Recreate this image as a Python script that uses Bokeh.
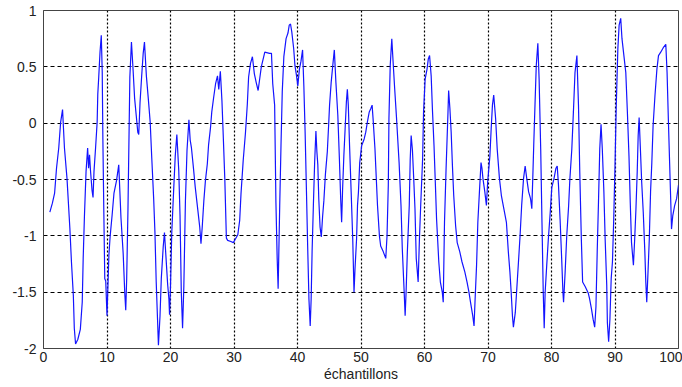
from bokeh.plotting import figure
from bokeh.embed import file_html
from bokeh.resources import INLINE
from bokeh.models import ColumnDataSource, Range1d, FixedTicker

# ---- data, one chunk per decade of samples ----
xa = [1.0, 1.4, 1.75, 2.05, 2.4, 2.7, 3.0, 3.3, 3.7, 4.15, 4.4, 4.7, 4.85, 5.05, 5.4, 5.8, 6.1, 6.25, 6.45, 6.7,
      6.95, 7.1, 7.25, 7.4, 7.65, 7.8, 7.95, 8.2, 8.45, 8.55, 8.7, 8.9, 9.1, 9.25, 9.35, 9.5, 9.65, 9.8]
ya = [-0.79, -0.71, -0.62, -0.40, -0.22, 0.01, 0.12, -0.22, -0.49, -0.93, -1.23, -1.53, -1.82, -1.96, -1.92,
      -1.83, -1.59, -1.20, -0.82, -0.43, -0.22, -0.40, -0.28, -0.42, -0.60, -0.66, -0.43, -0.22, 0.01, 0.26,
      0.41, 0.63, 0.78, 0.45, -0.14, -0.79, -1.38, -1.40]

xb = [10.0, 10.3, 10.5, 10.8, 11.1, 11.5, 11.85, 12.2, 12.55, 12.8, 12.95, 13.1, 13.3, 13.45, 13.6, 13.85, 14.1,
      14.35, 14.6, 14.85, 15.0, 15.2, 15.45, 15.7, 15.9, 16.2, 16.5, 16.8, 17.05, 17.35, 17.55, 17.75, 17.95,
      18.1, 18.35, 18.55, 18.85, 19.05, 19.3, 19.55, 19.75, 19.85]
yb = [-1.71, -1.17, -1.00, -0.82, -0.62, -0.51, -0.37, -0.84, -1.16, -1.51, -1.66, -1.38, -0.77, -0.18, 0.41,
      0.72, 0.48, 0.22, 0.07, -0.08, -0.10, 0.18, 0.41, 0.62, 0.72, 0.42, 0.22, 0.01, -0.31, -0.67, -0.97,
      -1.41, -1.73, -1.97, -1.71, -1.38, -1.10, -0.97, -1.20, -1.43, -1.56, -1.70]

xc = [20.0, 20.2, 20.5, 20.75, 21.0, 21.3, 21.5, 21.7, 21.9, 22.1, 22.35, 22.6, 22.9, 23.1, 23.3, 23.6, 23.9,
      24.3, 24.6, 24.8, 25.0, 25.25, 25.5, 25.8, 26.0, 26.3, 26.5, 26.8, 27.1, 27.4, 27.6, 27.85, 28.1, 28.3,
      28.55, 28.8, 29.0, 29.5, 29.9]
yc = [-1.45, -0.97, -0.59, -0.29, -0.10, -0.42, -0.82, -1.50, -1.82, -1.45, -0.69, -0.24, 0.03, -0.15, -0.22,
      -0.39, -0.57, -0.77, -0.92, -1.07, -0.92, -0.69, -0.51, -0.36, -0.19, -0.04, 0.10, 0.23, 0.35, 0.42,
      0.30, 0.46, 0.20, -0.10, -0.49, -1.02, -1.04, -1.05, -1.06]

xd = [30.2, 30.6, 30.9, 31.1, 31.45, 31.8, 32.1, 32.3, 32.6, 32.9, 33.2, 33.5, 33.8, 34.3, 34.85, 35.6, 35.9,
      36.1, 36.4, 36.6, 36.8, 36.95, 37.2, 37.4, 37.6, 37.85, 38.2, 38.5, 38.7, 38.9, 39.1, 39.4, 39.6, 39.85]
yd = [-1.03, -0.99, -0.86, -0.63, -0.33, -0.09, 0.17, 0.41, 0.53, 0.59, 0.44, 0.36, 0.29, 0.50, 0.63, 0.62,
      0.62, 0.35, 0.16, -0.70, -1.20, -1.47, -0.73, -0.20, 0.28, 0.59, 0.75, 0.80, 0.87, 0.88, 0.81, 0.66,
      0.51, 0.42]

xe = [40.05, 40.3, 40.55, 40.8, 41.0, 41.2, 41.4, 41.6, 41.8, 42.0, 42.15, 42.3, 42.5, 42.7, 42.9, 43.05,
      43.2, 43.35, 43.55, 43.75, 43.95, 44.15, 44.4, 44.7, 44.9, 45.05, 45.3, 45.55, 45.8, 46.05, 46.35, 46.6,
      46.8, 46.95, 47.1, 47.3, 47.5, 47.7, 47.85, 48.0, 48.2, 48.45, 48.7, 48.9, 49.05, 49.3, 49.45, 49.6, 49.8]
ye = [0.33, 0.48, 0.55, 0.65, 0.33, -0.08, -0.58, -1.09, -1.56, -1.80, -1.56, -1.14, -0.73, -0.35, -0.07,
      -0.25, -0.37, -0.67, -0.92, -1.01, -0.83, -0.69, -0.45, -0.25, -0.02, 0.16, 0.36, 0.51, 0.65, 0.36,
      0.07, -0.32, -0.67, -0.88, -0.59, -0.29, -0.05, 0.19, 0.30, 0.16, -0.20, -0.61, -1.03, -1.50, -1.30,
      -1.03, -0.73, -0.61, -0.35]

xf = [50.1, 50.5, 50.75, 51.0, 51.3, 51.55, 51.75, 51.9, 52.2, 52.6, 52.9, 53.1, 53.5, 53.9, 54.1, 54.3, 54.4,
      54.6, 54.85, 55.05, 55.3, 55.6, 56.0, 56.3, 56.5, 56.8, 56.95, 57.1, 57.3, 57.6, 57.75, 57.9, 58.1, 58.3,
      58.5, 58.7, 59.0, 59.2, 59.4, 59.7, 59.85]
yf = [-0.20, -0.14, -0.08, 0.01, 0.10, 0.13, 0.16, 0.04, -0.23, -0.73, -1.00, -1.09, -1.14, -1.20, -1.00,
      -0.55, 0.04, 0.51, 0.75, 0.55, 0.31, 0.04, -0.35, -0.73, -1.11, -1.50, -1.71, -1.50, -1.14, -0.73,
      -0.32, -0.11, -0.24, -0.49, -0.76, -1.20, -1.41, -1.03, -0.73, -0.32, 0.10]

xg = [60.1, 60.4, 60.6, 60.8, 61.05, 61.25, 61.5, 61.7, 61.9, 62.25, 62.5, 62.8, 62.95, 63.15, 63.4, 63.7,
      63.8, 64.0, 64.2, 64.4, 64.6, 64.9, 65.15, 65.55, 65.9, 66.35, 66.7, 67.0, 67.25, 67.6, 67.8, 67.95,
      68.2, 68.4, 68.65, 68.9, 69.05, 69.2, 69.5, 69.75, 69.95]
yg = [0.39, 0.48, 0.57, 0.60, 0.42, 0.12, -0.20, -0.52, -0.85, -1.23, -1.41, -1.50, -1.59, -0.88, -0.40, 0.10,
      0.29, 0.13, -0.08, -0.38, -0.64, -0.91, -1.06, -1.14, -1.23, -1.32, -1.41, -1.50, -1.59, -1.71, -1.80,
      -1.59, -1.26, -0.88, -0.61, -0.35, -0.40, -0.49, -0.61, -0.73, -0.52]

xh = [70.3, 70.5, 70.7, 70.9, 71.2, 71.45, 71.8, 72.1, 72.5, 72.9, 73.2, 73.45, 73.65, 73.85, 74.0, 74.3,
      74.5, 74.8, 75.05, 75.3, 75.6, 75.85, 76.1, 76.4, 76.7, 76.9, 77.05, 77.2, 77.4, 77.6, 77.85, 78.05,
      78.3, 78.5, 78.7, 78.85, 79.0, 79.25, 79.5, 79.8]
yh = [-0.29, -0.05, 0.16, 0.25, 0.04, -0.23, -0.49, -0.64, -0.76, -0.88, -1.14, -1.32, -1.50, -1.71, -1.81,
      -1.68, -1.50, -1.23, -1.00, -0.73, -0.49, -0.38, -0.49, -0.61, -0.67, -0.76, -0.49, -0.20, 0.16, 0.51,
      0.71, 0.39, -0.23, -0.88, -1.50, -1.82, -1.50, -1.26, -1.03, -0.79]

xi = [80.05, 80.4, 80.7, 80.9, 81.1, 81.35, 81.6, 81.8, 81.9, 82.15, 82.4, 82.7, 82.9, 83.2, 83.45, 83.7, 84.0,
      84.25, 84.45, 84.7, 84.9, 85.3, 85.8, 86.0, 86.3, 86.55, 86.8, 87.0, 87.2, 87.4, 87.6, 87.8, 88.0, 88.25,
      88.45, 88.7, 88.8, 89.0, 89.2, 89.4, 89.6, 89.8]
yi = [-0.57, -0.49, -0.40, -0.38, -0.55, -0.85, -1.20, -1.50, -1.59, -1.32, -1.00, -0.73, -0.49, -0.23, 0.10,
      0.45, 0.60, 0.16, -0.43, -1.03, -1.41, -1.45, -1.51, -1.56, -1.65, -1.74, -1.81, -1.63, -1.14, -0.70,
      -0.23, -0.01, -0.23, -0.61, -1.03, -1.44, -1.77, -1.94, -1.74, -1.38, -1.23, -0.85]

xj = [90.0, 90.2, 90.45, 90.65, 90.9, 91.1, 91.4, 91.7, 91.95, 92.2, 92.4, 92.6, 92.9, 93.1, 93.3, 93.5, 93.65,
      93.8, 94.0, 94.2, 94.45, 94.7, 94.85, 95.0, 95.2, 95.4, 95.6, 95.8, 96.0, 96.3, 96.6, 96.85, 97.2, 97.6,
      98.0, 98.2, 98.4, 98.6, 98.8, 98.9, 99.1, 99.4, 99.7, 100.0]
yj = [-0.38, 0.16, 0.66, 0.87, 0.93, 0.75, 0.60, 0.45, 0.10, -0.29, -0.70, -1.06, -1.26, -1.03, -0.76, -0.43,
      -0.11, 0.05, -0.23, -0.52, -0.79, -1.14, -1.41, -1.59, -1.32, -1.03, -0.61, -0.35, -0.02, 0.25, 0.48,
      0.60, 0.63, 0.67, 0.70, 0.45, 0.04, -0.35, -0.73, -0.94, -0.82, -0.73, -0.67, -0.55]

x_ticks = [0, 10, 20, 30, 40, 50, 60, 70, 80, 90, 100]
y_ticks = [-2, -1.5, -1, -0.5, 0, 0.5, 1]
y_tick_labels = ["-2", "-1.5", "-1", "-0.5", "0", "0.5", "1"]
x_label = "échantillons"

samples = xa + xb + xc + xd + xe + xf + xg + xh + xi + xj
values = ya + yb + yc + yd + ye + yf + yg + yh + yi + yj
source = ColumnDataSource(data=dict(x=samples, y=values))

p = figure(width=682, height=387, output_backend="svg", toolbar_location=None,
           x_range=Range1d(0, 100), y_range=Range1d(-2, 1))
p.min_border_left = 43
p.min_border_right = 4
p.min_border_top = 10
p.min_border_bottom = 39
p.background_fill_color = "white"
p.border_fill_color = "white"
p.outline_line_color = "#444444"
p.outline_line_width = 1

p.line("x", "y", source=source, line_color="#1414ff", line_width=1.2)

font = "Liberation Sans"
p.xaxis.ticker = FixedTicker(ticks=x_ticks)
p.yaxis.ticker = FixedTicker(ticks=y_ticks)
p.yaxis.major_label_overrides = {t: s for t, s in zip(y_ticks, y_tick_labels)}
for ax in (p.xaxis, p.yaxis):
    ax.major_label_text_font = font
    ax.major_label_text_font_size = "14px"
    ax.major_label_text_color = "#222222"
    ax.major_tick_out = 0
    ax.major_tick_in = 0
    ax.minor_tick_out = 0
    ax.minor_tick_in = 0
    ax.axis_line_color = "#444444"
p.yaxis.major_label_standoff = 7
p.xaxis.major_label_standoff = 3
p.xaxis.axis_label = x_label
p.xaxis.axis_label_text_font = font
p.xaxis.axis_label_text_font_size = "14px"
p.xaxis.axis_label_text_font_style = "normal"
p.xaxis.axis_label_text_color = "#222222"
p.xaxis.axis_label_standoff = 1

p.xgrid.ticker = FixedTicker(ticks=x_ticks)
p.ygrid.ticker = FixedTicker(ticks=y_ticks)
p.xgrid.grid_line_color = "black"
p.xgrid.grid_line_dash = "2 2"
p.xgrid.grid_line_width = 1.2
p.ygrid.grid_line_color = "black"
p.ygrid.grid_line_dash = "4 3"
p.ygrid.grid_line_width = 1

open("out.html", "w").write(file_html(p, INLINE))
